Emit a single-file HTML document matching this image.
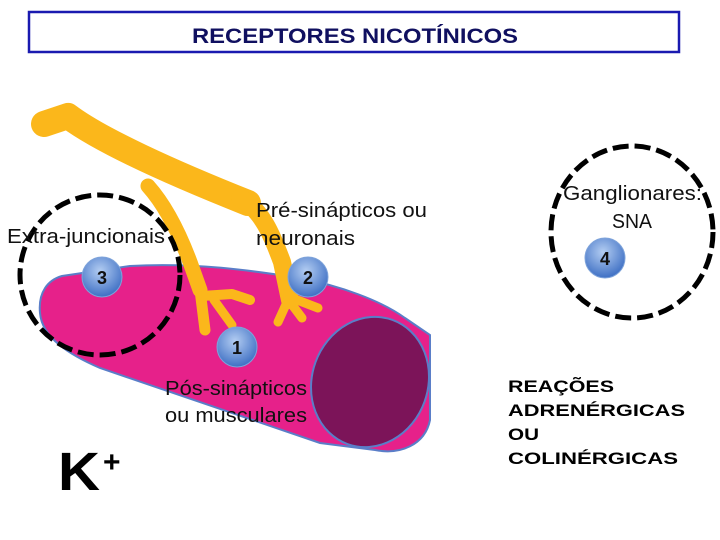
<!DOCTYPE html>
<html><head><meta charset="utf-8"><style>
html,body{margin:0;padding:0;background:#fff;width:720px;height:540px;overflow:hidden}
</style></head><body>
<svg width="720" height="540" viewBox="0 0 720 540" xmlns="http://www.w3.org/2000/svg">
<defs>
<radialGradient id="ball" cx="45%" cy="35%" r="65%">
<stop offset="0" stop-color="#b3cdf2"/><stop offset="1" stop-color="#3f70c4"/>
</radialGradient>
</defs>
<rect x="29" y="12" width="650" height="40" fill="#fff" stroke="#1a1ab0" stroke-width="2.5"/>
<text x="192" y="43" font-family="Liberation Sans, sans-serif" font-weight="bold" font-size="21" fill="#101060" textLength="326" lengthAdjust="spacingAndGlyphs">RECEPTORES NICOTÍNICOS</text>

<!-- muscle -->
<path d="M40,313 C38,292 48,280 62,276 L130,266 C200,262 260,272 300,278 C340,286 380,300 405,318 L430,335 L430,420 C425,445 400,455 375,450 L320,443 L100,368 C70,355 42,338 40,313 Z" fill="#e6218a" stroke="#5a7ec8" stroke-width="2"/>
<ellipse cx="370" cy="382" rx="58" ry="66" transform="rotate(20 370 382)" fill="#7c1459" stroke="#5a7ec8" stroke-width="2"/>

<!-- nerve -->
<g fill="none" stroke="#fbb71b" stroke-linecap="round" stroke-linejoin="round">
<path d="M44,124 L68,116 C100,140 170,172 248,203" stroke-width="26"/>
<path d="M240,198 C262,210 272,235 282,262 L290,300" stroke-width="18"/>
<path d="M148,186 C165,205 178,230 190,262 L200,290" stroke-width="15"/>
<path d="M200,290 L205,330" stroke-width="11"/>
<path d="M202,296 L232,294 L250,300" stroke-width="10"/>
<path d="M214,300 L232,325" stroke-width="9"/>
<path d="M288,300 L278,322 M290,302 L302,318 M292,298 L318,308" stroke-width="9"/>
</g>

<!-- dashed circles -->
<circle cx="100" cy="275" r="80" fill="none" stroke="#000" stroke-width="5" stroke-dasharray="16 6"/>
<ellipse cx="632" cy="232" rx="81" ry="86" fill="none" stroke="#000" stroke-width="5" stroke-dasharray="16 6"/>

<!-- balls -->
<g font-family="Liberation Sans, sans-serif" font-weight="bold" font-size="18" fill="#111" text-anchor="middle">
<circle cx="102" cy="277" r="20" fill="url(#ball)" stroke="#7ea3da"/><text x="102" y="284">3</text>
<circle cx="308" cy="277" r="20" fill="url(#ball)" stroke="#7ea3da"/><text x="308" y="284">2</text>
<circle cx="237" cy="347" r="20" fill="url(#ball)" stroke="#7ea3da"/><text x="237" y="354">1</text>
<circle cx="605" cy="258" r="20" fill="url(#ball)" stroke="#7ea3da"/><text x="605" y="265">4</text>
</g>

<g font-family="Liberation Sans, sans-serif" font-size="20" fill="#111" lengthAdjust="spacingAndGlyphs">
<text x="7" y="243" textLength="158" lengthAdjust="spacingAndGlyphs">Extra-juncionais</text>
<text x="256" y="217" textLength="171" lengthAdjust="spacingAndGlyphs">Pré-sinápticos ou</text>
<text x="256" y="245" textLength="99" lengthAdjust="spacingAndGlyphs">neuronais</text>
<text x="165" y="395" textLength="142" lengthAdjust="spacingAndGlyphs">Pós-sinápticos</text>
<text x="165" y="422" textLength="142" lengthAdjust="spacingAndGlyphs">ou musculares</text>
<text x="563" y="200" textLength="139" lengthAdjust="spacingAndGlyphs">Ganglionares:</text>
<text x="612" y="228" textLength="40" lengthAdjust="spacingAndGlyphs">SNA</text>
</g>
<g font-family="Liberation Sans, sans-serif" font-weight="bold" font-size="17" fill="#000">
<text x="508" y="392" textLength="106" lengthAdjust="spacingAndGlyphs">REAÇÕES</text>
<text x="508" y="416" textLength="177" lengthAdjust="spacingAndGlyphs">ADRENÉRGICAS</text>
<text x="508" y="440" textLength="31" lengthAdjust="spacingAndGlyphs">OU</text>
<text x="508" y="464" textLength="170" lengthAdjust="spacingAndGlyphs">COLINÉRGICAS</text>
</g>
<text x="58" y="490" font-family="Liberation Sans, sans-serif" font-weight="bold" font-size="54" fill="#000" textLength="42" lengthAdjust="spacingAndGlyphs">K</text>
<text x="103" y="472" font-family="Liberation Sans, sans-serif" font-weight="bold" font-size="30" fill="#000">+</text>
</svg>
</body></html>
